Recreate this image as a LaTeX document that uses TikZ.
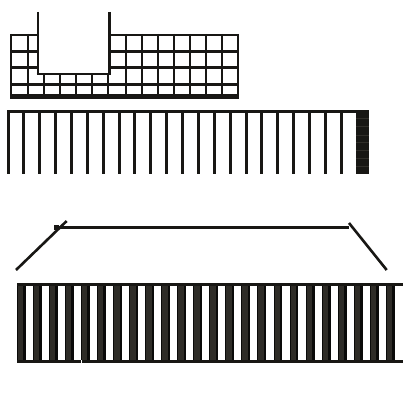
\documentclass[tikz,border=0pt]{standalone}
\definecolor{ink}{RGB}{24,23,20}
\definecolor{bargrey}{RGB}{46,44,39}
\definecolor{barblack}{RGB}{10,10,9}
\definecolor{stripe}{RGB}{48,46,41}
\tikzset{
  gridline/.style={line width=2.4pt, draw=ink},
  uline/.style={line width=2.9pt, draw=ink},
  slant/.style={line width=2.6pt, draw=ink},
  solidpart/.style={fill=ink, draw=none}
}
\begin{document}
\begin{tikzpicture}[x=1pt,y=-1pt]
\useasboundingbox (0,0) rectangle (404,404);
% ---------- figure 1: grid with U cut-out ----------
\foreach \y in {35,51.7,67.7}{
  \draw[gridline] (10,\y) -- (38,\y);
  \draw[gridline] (109.5,\y) -- (239,\y);
}
\draw[gridline] (10,84.3) -- (239,84.3);
\fill[ink] (10,93.5) rectangle (239,99.2);
\draw[gridline] (11.2,33.8) -- (11.2,94);
\draw[gridline] (27.7,34) -- (27.7,94);
\foreach \x in {43.7,59.7,75.7,91.7,107.7}{
  \draw[gridline] (\x,74) -- (\x,94);
}
\foreach \x in {126,142,158,174,190,206,222}{
  \draw[gridline] (\x,34) -- (\x,94);
}
\draw[gridline] (237.8,33.8) -- (237.8,94);
\draw[uline] (38,12) -- (38,74);
\draw[uline] (109.7,12) -- (109.7,74);
\draw[uline] (36.6,74) -- (111.1,74);
% ---------- figure 2: railing with end post ----------
\fill[ink] (6.7,109.8) rectangle (356,113);
\foreach \k in {0,...,21}{
  \fill[ink] ({6.5+15.87*\k},110) rectangle ({9.5+15.87*\k},174);
}
\fill[ink] (356,109.8) rectangle (368.7,174);
\foreach \y in {118.3,126.7,135,142.7,150.7,158.3,166.7}{
  \draw[stripe, line width=0.8pt] (356,\y) -- (368.7,\y);
}
% ---------- figure 3: roof line ----------
\draw[slant] (16,270) -- (66.7,221);
\draw[slant] (55,227.6) -- (349,227.6);
\draw[slant] (349,223) -- (386.7,270);
\fill[ink] (54,225.3) rectangle (58.7,230);
% ---------- figure 3: lower railing ----------
\fill[ink] (16.7,283) rectangle (403.3,286.2);
\fill[ink] (16.7,359.5) rectangle (80.7,362.5);
\fill[ink] (82,359.5) rectangle (403.3,362.5);
\foreach \k in {0,...,23}{
  \fill[bargrey] ({16.7+16.05*\k},286) rectangle ({23.2+16.05*\k},359.7);
  \fill[barblack] ({23.2+16.05*\k},286) rectangle ({25.6+16.05*\k},359.7);
  \fill[barblack] ({16.7+16.05*\k},286) rectangle ({17.5+16.05*\k},359.7);
}
\end{tikzpicture}
\end{document}
